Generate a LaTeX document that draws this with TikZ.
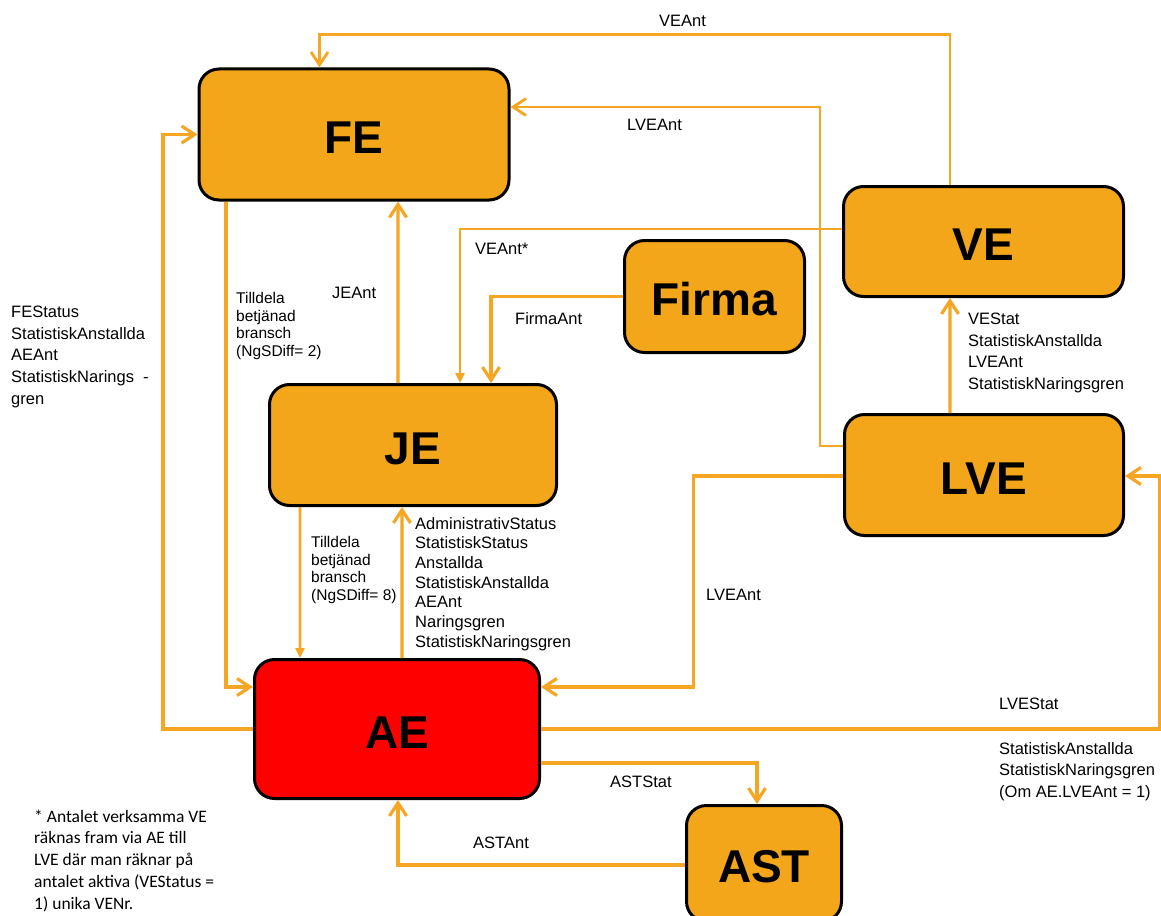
\documentclass[tikz,border=0pt]{standalone}
\usepackage{fontspec}
\setmainfont{Liberation Sans}
\newfontfamily\notefont{Carlito}
\usetikzlibrary{arrows.meta}
\definecolor{boxorange}{RGB}{244,166,26}
\definecolor{lineorange}{RGB}{245,166,35}
\definecolor{aered}{RGB}{255,0,0}

\begin{document}
\begin{tikzpicture}[x=10pt,y=10pt]
    \tikzstyle{every node}+=[inner sep=0pt]
    \tikzstyle{box}=[draw=black, line width=3pt, rounded corners=20pt, fill=boxorange, text height=38pt, text depth=0pt, font=\bfseries\fontsize{46}{50}\selectfont]
    \tikzstyle{flow}=[draw=lineorange, line width=3.2pt, -{Straight Barb[length=13pt,width=17pt]}]
    \tikzstyle{thinflow}=[draw=lineorange, line width=2.8pt, -{Triangle[length=10pt,width=9pt]}]
    \tikzstyle{lbl}=[font=\fontsize{16.5}{21.6}\selectfont, align=left]
    \tikzstyle{lblsmall}=[font=\fontsize{15.5}{17.6}\selectfont, align=left]
    \tikzstyle{note}=[font=\notefont\fontsize{17.5}{21.7}\selectfont, align=left]
    \useasboundingbox (0,0) rectangle (116.1,-91.5);
    \node [box, minimum width=310pt, minimum height=131pt] (FE) at (35.4,-13.45) {FE};
    \node [box, minimum width=280pt, minimum height=110pt] (VE) at (98.35,-24.15) {VE};
    \node [box, minimum width=180pt, minimum height=112pt] (Firma) at (71.45,-29.65) {Firma};
    \node [box, minimum width=287pt, minimum height=121pt] (JE) at (41.3,-44.5) {JE};
    \node [box, minimum width=279pt, minimum height=121pt] (LVE) at (98.4,-47.5) {LVE};
    \node [box, fill=aered, minimum width=285pt, minimum height=139pt] (AE) at (39.7,-72.9) {AE};
    \node [box, minimum width=155pt, minimum height=116pt] (AST) at (76.4,-86.35) {AST};
    \draw [flow, line width=2.8pt] ([xshift=-33.5pt]VE.north) |- ([xshift=-34.5pt,yshift=33pt]FE.north) -- ([xshift=-34.5pt]FE.north);
    \draw [flow, line width=2.8pt] ([yshift=29pt]LVE.west) -| (82,-10.7) -- ([yshift=27.5pt]FE.east);
    \draw [thinflow] ([yshift=12.5pt]VE.west) -| ([xshift=47pt]JE.north);
    \draw [flow] (Firma.west) -| ([xshift=78pt]JE.north);
    \draw [flow] ([xshift=-15pt]JE.north) -- ([xshift=44pt]FE.south);
    \draw [flow] ([xshift=-128pt]FE.south) |- ([yshift=42pt]AE.west);
    \draw [flow] (AE.west) -| ([xshift=-34.5pt]FE.west) -- (FE.west);
    \draw [thinflow] ([xshift=-113pt]JE.south) -- ([xshift=-97pt]AE.north);
    \draw [flow] ([xshift=5pt]AE.north) -- ([xshift=-11pt]JE.south);
    \draw [flow] ([yshift=-1pt]LVE.west) -| ([xshift=152.5pt,yshift=42pt]AE.east) -- ([yshift=42pt]AE.east);
    \draw [flow] (AE.east) -| ([xshift=34.5pt,yshift=-1pt]LVE.east) -- ([yshift=-1pt]LVE.east);
    \draw [flow] ([yshift=-34pt]AE.east) -| ([xshift=-7pt]AST.north);
    \draw [flow] ([yshift=-1.5pt]AST.west) -| ([xshift=1pt]AE.south);
    \draw [flow] ([xshift=-34pt]LVE.north) -- ([xshift=-33.5pt]VE.south);
    \node [lbl, anchor=west] (veant) at (65.9,-2.1) {VEAnt};
    \node [lbl, anchor=west] (lveanttop) at (62.7,-12.5) {LVEAnt};
    \node [lbl, anchor=west] (veantstar) at (47.5,-24.9) {VEAnt*};
    \node [lbl, anchor=west] (firmaant) at (51.5,-31.9) {FirmaAnt};
    \node [lbl, anchor=west] (jeant) at (33.2,-29.3) {JEAnt};
    \node [lblsmall, anchor=north west] (tilldelafe) at (23.6,-29.23) {Tilldela\\betjänad\\bransch\\(NgSDiff= 2)};
    \node [lblsmall, anchor=north west] (tilldelaje) at (31.1,-53.63) {Tilldela\\betjänad\\bransch\\(NgSDiff= 8)};
    \node [lbl, anchor=north west] (festatus) at (1.1,-30.6) {FEStatus\\StatistiskAnstallda\\AEAnt\\StatistiskNarings\ \ -\\gren};
    \node [lbl, anchor=north west, font=\fontsize{16.5}{19.7}\selectfont] (aestatus) at (41.5,-51.7) {AdministrativStatus\\StatistiskStatus\\Anstallda\\StatistiskAnstallda\\AEAnt\\Naringsgren\\StatistiskNaringsgren};
    \node [lbl, anchor=north west] (vestat) at (96.8,-31.3) {VEStat\\StatistiskAnstallda\\LVEAnt\\StatistiskNaringsgren};
    \node [lbl, anchor=west] (lveantlow) at (70.6,-59.5) {LVEAnt};
    \node [lbl, anchor=west] (lvestat) at (99.9,-70.4) {LVEStat};
    \node [lbl, anchor=north west] (lvestatlist) at (99.9,-74.2) {StatistiskAnstallda\\StatistiskNaringsgren\\(Om AE.LVEAnt = 1)};
    \node [lbl, anchor=west] (aststat) at (61,-78.2) {ASTStat};
    \node [lbl, anchor=west] (astant) at (47.3,-84.3) {ASTAnt};
    \node [note, anchor=north west] (footnote) at (3.4,-80.96) {* Antalet verksamma VE\\räknas fram via AE till\\LVE där man räknar på\\antalet aktiva (VEStatus =\\1) unika VENr.};
\end{tikzpicture}
\end{document}
